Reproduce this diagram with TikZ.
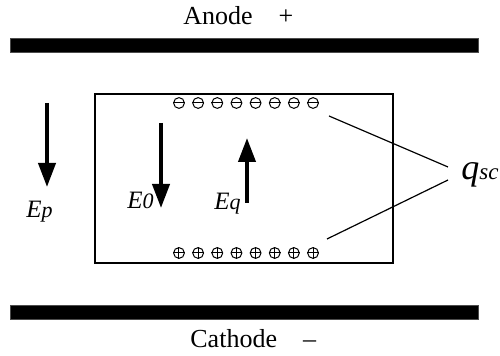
\documentclass[tikz,border=0pt]{standalone}
\usepackage{fontspec}
\setmainfont{Liberation Serif}
\usetikzlibrary{arrows.meta, positioning}

\begin{document}
\begin{tikzpicture}[
  x=0.5pt, y=-0.5pt,
  plate/.style={fill=black, draw=black!70, line width=0.4pt},
  elabel/.style={anchor=base west, inner sep=0pt, font=\fontsize{13}{15}\selectfont},
  field/.style={line width=2pt, -{Triangle[width=8.5pt, length=12pt]}},
  flabel/.style={anchor=base west, inner sep=0pt, font=\fontsize{12.5}{14}\selectfont\itshape},
  charge/.style={circle, draw, line width=0.5pt, minimum size=5.4pt, inner sep=0pt},
  lead/.style={line width=0.6pt}
]
  \useasboundingbox (0,0) rectangle (500,356);
  \fill[plate] (10,38) rectangle (478,52);
  \fill[plate] (10,305) rectangle (478,319);
  \node[elabel] (anode) at (183,25) {Anode\quad+};
  \node[elabel] (cathode) at (190,348) {Cathode\quad--};

  \draw[line width=1pt] (95,94) rectangle (393,263);

  \foreach \i in {1,...,8} {
    \node[charge] (neg\i) at ({179+19.15*(\i-1)},103) {};
    \draw[line width=0.5pt] (neg\i.west) -- (neg\i.east);
    \node[charge] (pos\i) at ({179+19.15*(\i-1)},253) {};
    \draw[line width=0.5pt] (pos\i.west) -- (pos\i.east) (pos\i.north) -- (pos\i.south);
  }

  \coordinate (ptop) at (47,103);
  \coordinate (pbot) at (47,187);
  \coordinate (otop) at (161,123);
  \coordinate (obot) at (161,208);
  \coordinate (qtop) at (247,138);
  \coordinate (qbot) at (247,203);
  \draw[field] (ptop) -- (pbot);
  \draw[field] (otop) -- (obot);
  \draw[field] (qbot) -- (qtop);
  \node[flabel] (ep) at (26,218) {E{\fontsize{11}{13}\selectfont p}};
  \node[flabel] (eo) at (127,209) {E{\fontsize{11}{13}\selectfont 0}};
  \node[flabel] (eq) at (214,210) {E{\fontsize{11}{13}\selectfont q}};

  \node[anchor=base west, inner sep=0pt] (qsc) at (461,180)
    {\itshape\fontsize{18}{20}\selectfont q\fontsize{11.5}{13}\selectfont sc};
  \coordinate (negend) at (329,116);
  \coordinate (posend) at (327,239);
  \draw[lead] (negend) -- ([shift={(-13,-13)}]qsc.base west);
  \draw[lead] (posend) -- ([shift={(-13,0)}]qsc.base west);
\end{tikzpicture}
\end{document}
